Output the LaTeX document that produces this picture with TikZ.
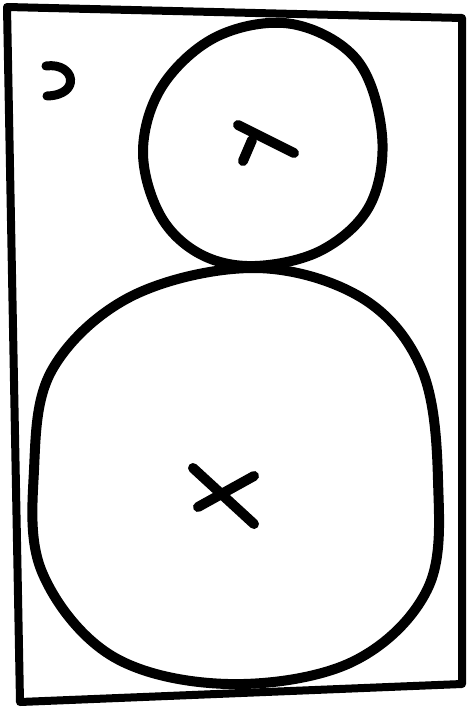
\documentclass[tikz,border=0pt]{standalone}
\usetikzlibrary{calc}
\tikzset{
  ink/.style={line width=10pt, line cap=round, line join=round, black},
  frameline/.style={line width=8pt, line cap=round, line join=round, black},
}
\begin{document}
\begin{tikzpicture}[x=1pt, y=-1pt]
  \useasboundingbox (0,0) rectangle (469,711);
  % frame
  \draw[frameline] (7,7) -- (462,18) -- (462,684) -- (20,702) -- cycle;
  % small head circle
  \draw[ink] plot[smooth cycle, tension=0.6] coordinates {
    (255,266) (322,250) (370,205) (382,135) (357,60) (292,24) (218,36)
    (163,85) (143,150) (160,215) (200,254)};
  % big body circle
  \draw[ink] plot[smooth cycle, tension=0.6] coordinates {
    (255,268) (362,298) (422,370) (438,480) (428,588) (352,662) (228,684)
    (112,656) (42,572) (34,470) (52,370) (132,296)};
  % mark top left
  \draw[ink, line width=9pt] (46,66) .. controls (75,62) and (82,95) .. (47,96);
  % mark in head
  \draw[ink] (238,125) -- (294,153);
  \draw[ink] (252,140) -- (243,161);
  % cross in body
  \draw[ink] (193,468) -- (254,524);
  \draw[ink] (198,507) -- (254,476);
\end{tikzpicture}
\end{document}
